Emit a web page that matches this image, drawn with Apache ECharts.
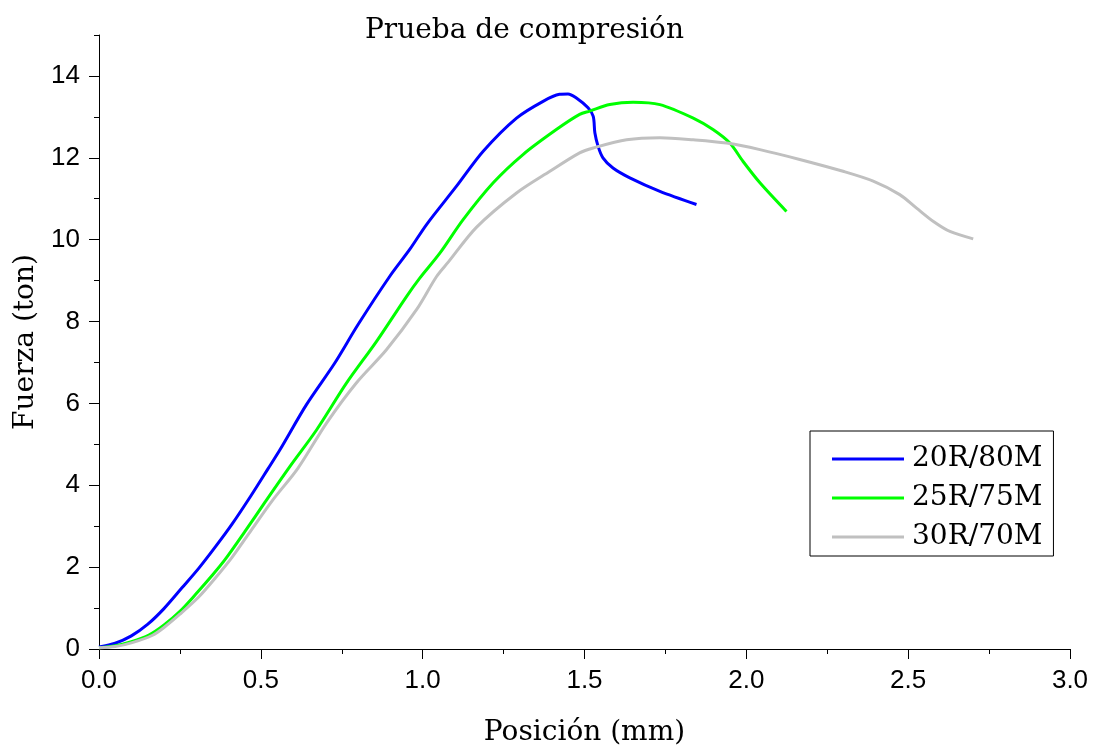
<!DOCTYPE html>
<html>
<head>
<meta charset="utf-8">
<script src="https://cdn.jsdelivr.net/npm/echarts@6/dist/echarts.min.js"></script>
<style>
	html, body { margin: 0; padding: 0; background: #fff; }
	#main { width: 1094px; height: 749px; }
</style>
</head>
<body>
<div id="main"></div>
<script>
// datos
var seriesNames = ['20R/80M', '25R/75M', '30R/70M'];

var x20 = [0, 0.05, 0.1, 0.15, 0.2, 0.257, 0.308, 0.36, 0.411, 0.47, 0.522, 0.56, 0.641, 0.728, 0.80, 0.898, 0.96, 1.012, 1.104, 1.187, 1.29, 1.372, 1.423, 1.449, 1.475, 1.511, 1.527, 1.532, 1.542, 1.557, 1.588, 1.64, 1.733, 1.846];
var y20 = [0.05, 0.14, 0.32, 0.6, 0.98, 1.5, 1.97, 2.5, 3.05, 3.75, 4.4, 4.88, 5.97, 6.98, 7.92, 9.10, 9.76, 10.37, 11.30, 12.16, 12.97, 13.38, 13.55, 13.56, 13.46, 13.22, 13.01, 12.61, 12.28, 12.0, 11.75, 11.51, 11.18, 10.86];

var x25 = [0, 0.05, 0.1, 0.154, 0.2, 0.25, 0.298, 0.35, 0.391, 0.45, 0.514, 0.589, 0.672, 0.765, 0.857, 0.95, 0.991, 1.053, 1.125, 1.218, 1.31, 1.413, 1.485, 1.516, 1.578, 1.65, 1.733, 1.836, 1.897, 1.949, 1.99, 2.042, 2.124];
var y25 = [0.03, 0.08, 0.18, 0.34, 0.58, 0.92, 1.33, 1.8, 2.2, 2.86, 3.6, 4.45, 5.35, 6.5, 7.51, 8.61, 9.06, 9.67, 10.49, 11.39, 12.08, 12.69, 13.06, 13.14, 13.3, 13.36, 13.3, 12.97, 12.69, 12.36, 11.91, 11.39, 10.69];

var x30 = [0, 0.05, 0.1, 0.164, 0.2, 0.25, 0.308, 0.36, 0.411, 0.47, 0.535, 0.615, 0.703, 0.795, 0.888, 0.981, 1.043, 1.079, 1.166, 1.29, 1.393, 1.485, 1.527, 1.63, 1.733, 1.836, 1.939, 2.042, 2.165, 2.299, 2.392, 2.474, 2.526, 2.577, 2.629, 2.701];
var y30 = [0.03, 0.06, 0.15, 0.33, 0.52, 0.85, 1.27, 1.74, 2.24, 2.9, 3.62, 4.42, 5.52, 6.5, 7.31, 8.29, 9.1, 9.45, 10.3, 11.14, 11.67, 12.12, 12.24, 12.44, 12.49, 12.44, 12.36, 12.2, 11.96, 11.67, 11.43, 11.1, 10.77, 10.45, 10.2, 10.02];

var yTicks = [0, 2, 4, 6, 8, 10, 12, 14];
var yMinorTicks = [1, 3, 5, 7, 9, 11, 13, 15];

function pares(xs, ys) {
	return xs.map(function (x, i) { return [x, ys[i]]; });
}

var serif = 'DejaVu Serif';
var sans = 'Liberation Sans';

var myChart = echarts.init(document.getElementById('main'));

var option = {
	animation: false,
	backgroundColor: '#fff',
	title: {
		text: 'Prueba de compresión',
		left: 365,
		top: 17,
		padding: 0,
		textStyle: { fontFamily: serif, fontSize: 28, fontWeight: 'normal', color: '#000' }
	},
	legend: {
		orient: 'vertical',
		left: 810,
		top: 431,
		padding: [14, 11, 5, 22],
		itemGap: 11,
		itemWidth: 72,
		itemHeight: 3,
		icon: 'rect',
		borderColor: '#000',
		borderWidth: 1,
		textStyle: { fontFamily: serif, fontSize: 28, lineHeight: 28, color: '#000', padding: [0, 0, 0, 3] },
		data: seriesNames
	},
	grid: {
		left: 99, right: 24, top: 35, bottom: 100,
		containLabel: false,
		outerBoundsMode: 'none'
	},
	xAxis: {
		type: 'value',
		min: 0, max: 3, interval: 0.5,
		name: 'Posición (mm)',
		nameLocation: 'middle',
		nameGap: 70,
		nameTextStyle: { fontFamily: serif, fontSize: 28, color: '#000' },
		axisLine: { show: true, onZero: false, lineStyle: { color: '#000', width: 1 } },
		axisTick: { show: true, length: 10, lineStyle: { color: '#000' } },
		minorTick: { show: true, splitNumber: 2, length: 5, lineStyle: { color: '#000' } },
		splitLine: { show: false },
		axisLabel: {
			margin: 19,
			fontFamily: sans, fontSize: 26, color: '#000',
			formatter: function (v) { return v.toFixed(1); }
		}
	},
	yAxis: [{
		type: 'value',
		position: 'left',
		min: 0, max: 15,
		name: 'Fuerza (ton)',
		nameLocation: 'middle',
		nameGap: 55,
		nameRotate: 90,
		nameTextStyle: { fontFamily: serif, fontSize: 28, color: '#000' },
		axisLine: { show: true, onZero: false, lineStyle: { color: '#000', width: 1 } },
		axisTick: { show: true, length: 10, customValues: yTicks, lineStyle: { color: '#000' } },
		splitLine: { show: false },
		axisLabel: { margin: 19, customValues: yTicks, fontFamily: sans, fontSize: 26, color: '#000' }
	}, {
		type: 'value',
		position: 'left',
		min: 0, max: 15,
		axisLine: { show: false },
		axisTick: { show: true, length: 5, customValues: yMinorTicks, lineStyle: { color: '#000' } },
		splitLine: { show: false },
		axisLabel: { show: false }
	}],
	series: [{
		name: seriesNames[0],
		type: 'line',
		data: pares(x20, y20),
		showSymbol: false,
		smooth: 0.3,
		itemStyle: { color: '#0000ff' },
		lineStyle: { color: '#0000ff', width: 3 }
	}, {
		name: seriesNames[1],
		type: 'line',
		data: pares(x25, y25),
		showSymbol: false,
		smooth: 0.3,
		itemStyle: { color: '#00ff00' },
		lineStyle: { color: '#00ff00', width: 3 }
	}, {
		name: seriesNames[2],
		type: 'line',
		data: pares(x30, y30),
		showSymbol: false,
		smooth: 0.3,
		itemStyle: { color: '#c0c0c0' },
		lineStyle: { color: '#c0c0c0', width: 3 }
	}]
};

myChart.setOption(option);
</script>
</body>
</html>
